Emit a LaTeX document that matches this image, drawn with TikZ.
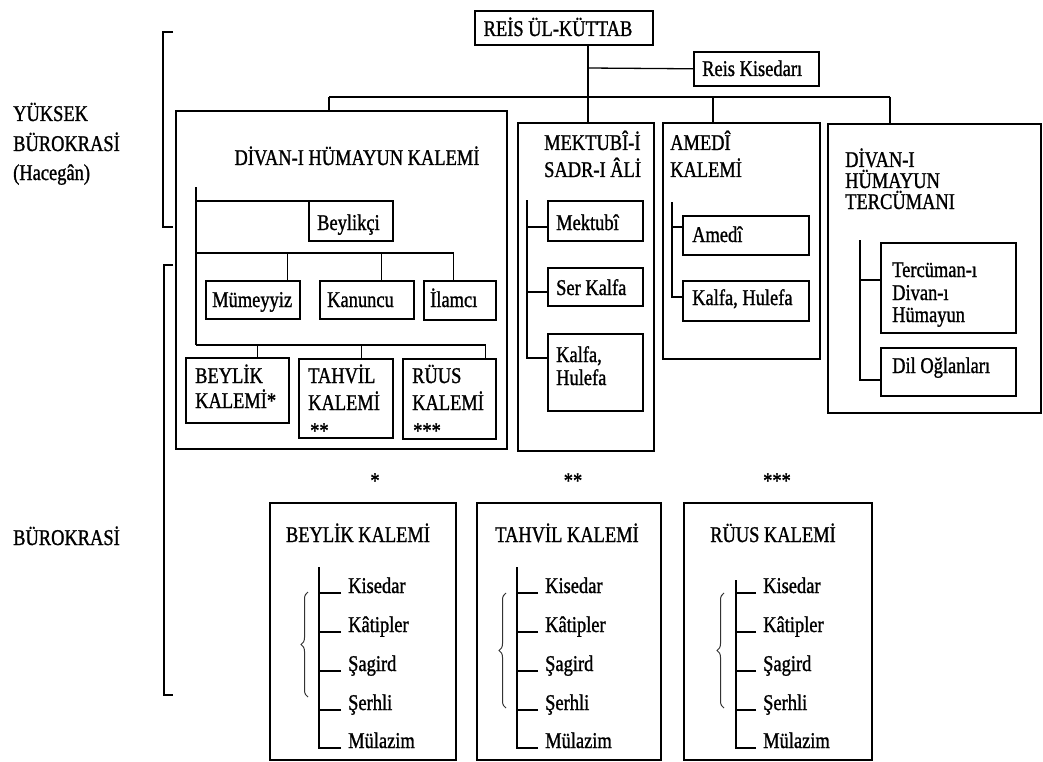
\documentclass[tikz,border=0pt]{standalone}
\usepackage{fontspec}
\setmainfont{Liberation Serif}[FakeStretch=0.82, FakeBold=1.1]
\usetikzlibrary{calc,decorations.pathreplacing}
\begin{document}
\begin{tikzpicture}[x=1pt,y=-1pt,
  font=\fontsize{22.5}{25}\selectfont,
  box/.style={draw, line width=1.6pt, anchor=north west, inner sep=0pt},
  lbl/.style={anchor=base west, inner sep=0pt},
  ctr/.style={anchor=base, inner sep=0pt},
  con/.style={line width=1.3pt},
  brk/.style={line width=2.6pt},
  brc/.style={line width=1pt, draw=black!80, decorate, decoration={brace, amplitude=7pt}},
]
\useasboundingbox[fill=white] (0,0) rectangle (1043,762);

% ---------- boxes ----------
\node[box, minimum width=178pt, minimum height=34pt] (reis) at (474,10) {};
\node[box, minimum width=125pt, minimum height=34pt] (kis) at (693,51) {};
\node[box, minimum width=331pt, minimum height=338pt] (divan) at (175,110) {};
\node[box, minimum width=136pt, minimum height=328pt] (mekt) at (517,122) {};
\node[box, minimum width=157pt, minimum height=236pt] (amedi) at (662,122) {};
\node[box, minimum width=213pt, minimum height=289pt] (terc) at (827,123) {};
\node[box, minimum width=84pt, minimum height=40pt] (bey) at (308,200) {};
\node[box, minimum width=94pt, minimum height=38pt] (mum) at (205,280) {};
\node[box, minimum width=94pt, minimum height=38pt] (kan) at (319,280) {};
\node[box, minimum width=72pt, minimum height=39pt] (ila) at (423,280) {};
\node[box, minimum width=103pt, minimum height=65pt] (bk) at (185,357) {};
\node[box, minimum width=94pt, minimum height=79pt] (tk) at (298,358) {};
\node[box, minimum width=93pt, minimum height=80pt] (rk) at (402,358) {};
\node[box, minimum width=95pt, minimum height=40pt] (m1) at (547,200) {};
\node[box, minimum width=95pt, minimum height=38pt] (m2) at (547,267) {};
\node[box, minimum width=95pt, minimum height=77pt] (m3) at (547,333) {};
\node[box, minimum width=126pt, minimum height=39pt] (a1) at (682,215) {};
\node[box, minimum width=126pt, minimum height=40pt] (a2) at (682,280) {};
\node[box, minimum width=135pt, minimum height=90pt] (t1) at (880,242) {};
\node[box, minimum width=135pt, minimum height=48pt] (t2) at (880,347) {};
\node[box, minimum width=186pt, minimum height=257pt] (B1) at (269,502) {};
\node[box, minimum width=184pt, minimum height=257pt] (B2) at (476,502) {};
\node[box, minimum width=188pt, minimum height=257pt] (B3) at (683,502) {};

% ---------- texts ----------
\node[ctr] (treis) at (558,36) {REİS ÜL-KÜTTAB};
\node[lbl] (tkis) at (702,76) {Reis Kisedarı};
\node[lbl] (ly1) at (13,121) {YÜKSEK};
\node[lbl] (ly2) at (13,151) {BÜROKRASİ};
\node[lbl] (ly3) at (13,180) {(Hacegân)};
\node[lbl] (lb) at (13,545) {BÜROKRASİ};

\node[ctr] (tdivan) at (357,165) {DİVAN-I HÜMAYUN KALEMİ};
\node[lbl] (tbey) at (317,230) {Beylikçi};
\node[lbl] (tmum) at (212,307) {Mümeyyiz};
\node[lbl] (tkan) at (327,307) {Kanuncu};
\node[lbl] (tila) at (430,307) {İlamcı};
\node[lbl] (tbk1) at (195,383) {BEYLİK};
\node[lbl] (tbk2) at (195,408) {KALEMİ*};
\node[lbl] (ttk1) at (308,383) {TAHVİL};
\node[lbl] (ttk2) at (308,410) {KALEMİ};
\node[lbl] (ttk3) at (310,438) {**};
\node[lbl] (trk1) at (412,383) {RÜUS};
\node[lbl] (trk2) at (412,410) {KALEMİ};
\node[lbl] (trk3) at (413,438) {***};

\node[lbl] (tm1) at (544,150) {MEKTUBÎ-İ};
\node[lbl] (tm2) at (544,177) {SADR-I ÂLİ};
\node[lbl] (tm3) at (556,230) {Mektubî};
\node[lbl] (tm4) at (556,295) {Ser Kalfa};
\node[lbl] (tm5) at (556,362) {Kalfa,};
\node[lbl] (tm6) at (556,385) {Hulefa};

\node[lbl] (ta1) at (670,150) {AMEDÎ};
\node[lbl] (ta2) at (670,177) {KALEMİ};
\node[lbl] (ta3) at (692,242) {Amedî};
\node[lbl] (ta4) at (692,305) {Kalfa, Hulefa};

\node[lbl] (tt1) at (845,167) {DİVAN-I};
\node[lbl] (tt2) at (845,188) {HÜMAYUN};
\node[lbl] (tt3) at (845,209) {TERCÜMANI};
\node[lbl] (tt4) at (892,277) {Tercüman-ı};
\node[lbl] (tt5) at (892,300) {Divan-ı};
\node[lbl] (tt6) at (892,322) {Hümayun};
\node[lbl] (tt7) at (892,373) {Dil Oğlanları};

\node[ctr] (s1) at (375,488) {*};
\node[ctr] (s2) at (573,488) {**};
\node[ctr] (s3) at (777,488) {***};
\node[ctr] (tB1) at (358,542) {BEYLİK KALEMİ};
\node[ctr] (tB2) at (567,542) {TAHVİL KALEMİ};
\node[ctr] (tB3) at (773,542) {RÜUS KALEMİ};

% ---------- top connectors ----------
\coordinate (busL) at (329,97);
\coordinate (busR) at (890,97);
\coordinate (rj) at (588,97);
\coordinate (aj) at (713,97);
\coordinate (kj) at (588,68);
\draw[con] (busL) -- (busR);
\draw[con] (reis.south -| rj) -- (rj);
\draw[con] (kj) -- (kis.west);
\draw[con] (busL) -- (busL |- divan.north);
\draw[con] (rj) -- (rj |- mekt.north);
\draw[con] (aj) -- (aj |- amedi.north);
\draw[con] (busR) -- (busR |- terc.north);

% ---------- Divan-ı Hümayun Kalemi ----------
\coordinate (dT) at (196,187);
\coordinate (d1) at (196,201);
\coordinate (d2) at (196,253);
\coordinate (d3) at (196,345);
\draw[con] (dT) -- (d3);
\draw[con] (d1) -- (d1 -| bey.west);
\draw[con] (d2) -| ($(ila.north)+(-6,0)$);
\draw[con] ($(mum.north)+(35,0)$) |- (d2);
\draw[con] ($(kan.north)+(15,0)$) |- (d2);
\draw[con] (d3) -| ($(rk.north)+(36.5,0)$);
\draw[con] ($(bk.north)+(20.5,0)$) |- (d3);
\draw[con] ($(tk.north)+(16,0)$) |- (d3);

% ---------- Mektubi ----------
\coordinate (mT) at (527,200);
\coordinate (mB) at (527,358);
\draw[con] (mT) -- (mB) -- (mB -| m3.west);
\draw[con] ($(m1.north west)+(0,27)$) -| (mT);
\draw[con] ($(m2.north west)+(0,25)$) -| (mT);

% ---------- Amedi ----------
\coordinate (aT) at (672,202);
\coordinate (aB) at (672,297);
\draw[con] (aT) -- (aB) -- (aB -| a2.west);
\draw[con] ($(a1.north west)+(0,12)$) -| (aT);

% ---------- Tercüman ----------
\coordinate (tT) at (860,240);
\coordinate (tB) at (860,380);
\draw[con] (tT) -- (tB) -- (tB -| t2.west);
\draw[con] ($(t1.north west)+(0,38)$) -| (tT);

% ---------- bottom boxes ----------
\foreach \bx/\px/\tx/\ty in {1/319/348/567, 2/517/545/567, 3/736/763/580} {
  \coordinate (p\bx) at (\px,\ty);
  \foreach \itm/\yy [count=\cnt] in {Kisedar/593, Kâtipler/632, Şagird/671, Şerhli/710, Mülazim/748} {
    \node[lbl] (i\bx\cnt) at (\tx,\yy) {\itm};
    \draw[con] ([xshift=-7pt]i\bx\cnt.base west) -| (p\bx);
  }
}
\draw[brc] (308,697) -- (308,592);
\draw[brc] (506,708) -- (506,593);
\draw[brc] (724,708) -- (724,593);

% ---------- left brackets ----------
\draw[brk] (173,32) -- (163,32) -- (163,227) -- (173,227);
\draw[brk] (173,265) -- (164,265) -- (164,370);
\draw[line width=1.4pt] (164,370) -- (164,695) -- (173,695);
\end{tikzpicture}
\end{document}
